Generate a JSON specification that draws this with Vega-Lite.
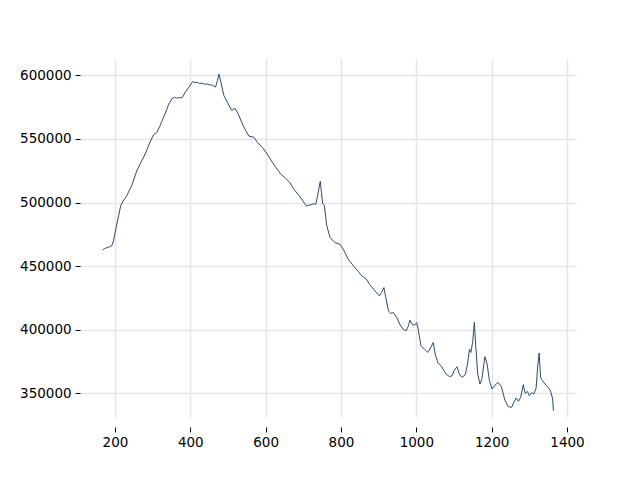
{
  "$schema": "https://vega.github.io/schema/vega-lite/v6.json",
  "autosize": "none",
  "width": 496,
  "height": 359,
  "padding": {"left": 80, "top": 58, "right": 64, "bottom": 63},
  "background": "white",
  "config": {
    "view": {"stroke": null},
    "axis": {
      "labelFont": "DejaVu Sans",
      "labelFontSize": 13.5,
      "labelColor": "black",
      "domain": false,
      "tickColor": "black",
      "tickWidth": 1,
      "tickSize": 4.9,
      "labelPadding": 4,
      "grid": true,
      "gridColor": "#e6e6e6",
      "gridWidth": 1.6
    }
  },
  "data": {
    "values": [
      {"x": 167, "y": 462650}, {"x": 172, "y": 463800}, {"x": 178, "y": 464500}, {"x": 185, "y": 465200},
      {"x": 191, "y": 465800}, {"x": 196, "y": 469800}, {"x": 204, "y": 481600}, {"x": 215, "y": 497400},
      {"x": 222, "y": 501300}, {"x": 231, "y": 505300}, {"x": 244, "y": 513100}, {"x": 258, "y": 525000},
      {"x": 271, "y": 532900}, {"x": 280, "y": 538100}, {"x": 292, "y": 546800}, {"x": 302, "y": 553100},
      {"x": 311, "y": 555200}, {"x": 320, "y": 560500}, {"x": 324, "y": 563700}, {"x": 333, "y": 569700},
      {"x": 342, "y": 576900}, {"x": 351, "y": 581600}, {"x": 358, "y": 582800}, {"x": 364, "y": 582100},
      {"x": 371, "y": 582600}, {"x": 378, "y": 582400}, {"x": 387, "y": 586900}, {"x": 396, "y": 590800},
      {"x": 407, "y": 595300}, {"x": 412, "y": 594200}, {"x": 418, "y": 594700}, {"x": 424, "y": 593500},
      {"x": 431, "y": 593900}, {"x": 438, "y": 593000}, {"x": 444, "y": 593300}, {"x": 451, "y": 592600},
      {"x": 458, "y": 592400}, {"x": 467, "y": 590800}, {"x": 472, "y": 596000}, {"x": 476, "y": 601000},
      {"x": 481, "y": 594800}, {"x": 489, "y": 584200}, {"x": 498, "y": 579000}, {"x": 510, "y": 572400},
      {"x": 518, "y": 574200}, {"x": 527, "y": 569800}, {"x": 538, "y": 561900}, {"x": 547, "y": 556600},
      {"x": 556, "y": 552200}, {"x": 569, "y": 551300}, {"x": 578, "y": 547400}, {"x": 591, "y": 543400},
      {"x": 604, "y": 538200}, {"x": 618, "y": 531600}, {"x": 627, "y": 527600}, {"x": 640, "y": 522400},
      {"x": 653, "y": 519000}, {"x": 664, "y": 515800}, {"x": 675, "y": 510500}, {"x": 689, "y": 505300},
      {"x": 699, "y": 501300}, {"x": 708, "y": 497400}, {"x": 719, "y": 498200}, {"x": 726, "y": 498900},
      {"x": 733, "y": 498700}, {"x": 737, "y": 504000}, {"x": 745, "y": 516800}, {"x": 748, "y": 508000},
      {"x": 751, "y": 499500}, {"x": 756, "y": 497500}, {"x": 762, "y": 482000}, {"x": 771, "y": 472500},
      {"x": 784, "y": 468500}, {"x": 797, "y": 467300}, {"x": 806, "y": 463300}, {"x": 819, "y": 455500},
      {"x": 833, "y": 450200}, {"x": 846, "y": 445800}, {"x": 855, "y": 442400}, {"x": 866, "y": 440300},
      {"x": 877, "y": 435300}, {"x": 890, "y": 430600}, {"x": 902, "y": 426600}, {"x": 908, "y": 429300},
      {"x": 914, "y": 433200}, {"x": 919, "y": 425300}, {"x": 926, "y": 414900}, {"x": 932, "y": 412800},
      {"x": 939, "y": 413500}, {"x": 948, "y": 409600}, {"x": 957, "y": 403800}, {"x": 965, "y": 400400},
      {"x": 973, "y": 399100}, {"x": 979, "y": 403100}, {"x": 983, "y": 407500}, {"x": 990, "y": 403800},
      {"x": 996, "y": 403800}, {"x": 1001, "y": 405700}, {"x": 1005, "y": 400400}, {"x": 1012, "y": 387500},
      {"x": 1021, "y": 384800}, {"x": 1030, "y": 382200}, {"x": 1036, "y": 384800}, {"x": 1045, "y": 390000},
      {"x": 1050, "y": 380900}, {"x": 1057, "y": 374300}, {"x": 1065, "y": 371700}, {"x": 1071, "y": 369100},
      {"x": 1079, "y": 365200}, {"x": 1088, "y": 363100}, {"x": 1095, "y": 363800}, {"x": 1101, "y": 368300},
      {"x": 1108, "y": 370900}, {"x": 1114, "y": 365200}, {"x": 1121, "y": 362500}, {"x": 1130, "y": 364600},
      {"x": 1136, "y": 373000}, {"x": 1141, "y": 384800}, {"x": 1145, "y": 382200}, {"x": 1150, "y": 391400},
      {"x": 1154, "y": 405800}, {"x": 1158, "y": 386100}, {"x": 1163, "y": 365200}, {"x": 1169, "y": 357300},
      {"x": 1174, "y": 361200}, {"x": 1182, "y": 378800}, {"x": 1188, "y": 373000}, {"x": 1194, "y": 359900},
      {"x": 1201, "y": 353400}, {"x": 1209, "y": 356400}, {"x": 1217, "y": 358600}, {"x": 1226, "y": 355200},
      {"x": 1235, "y": 344700}, {"x": 1244, "y": 339500}, {"x": 1253, "y": 339000}, {"x": 1259, "y": 342900},
      {"x": 1265, "y": 346300}, {"x": 1271, "y": 343700}, {"x": 1277, "y": 346800}, {"x": 1284, "y": 356800},
      {"x": 1289, "y": 350000}, {"x": 1295, "y": 351500}, {"x": 1300, "y": 348100}, {"x": 1306, "y": 350500},
      {"x": 1312, "y": 349400}, {"x": 1318, "y": 354100}, {"x": 1322, "y": 370400}, {"x": 1326, "y": 381700},
      {"x": 1330, "y": 362500}, {"x": 1335, "y": 359900}, {"x": 1342, "y": 357300}, {"x": 1350, "y": 354700},
      {"x": 1356, "y": 352100}, {"x": 1362, "y": 345500}, {"x": 1364, "y": 336300}
    ]
  },
  "mark": {"type": "line", "color": "#2d4b6e", "strokeWidth": 1, "clip": true},
  "encoding": {
    "x": {
      "field": "x",
      "type": "quantitative",
      "scale": {"domain": [107.1, 1423.9], "nice": false, "zero": false},
      "axis": {"title": null, "values": [200, 400, 600, 800, 1000, 1200, 1400], "format": "d", "offset": 10}
    },
    "y": {
      "field": "y",
      "type": "quantitative",
      "scale": {"domain": [331385, 613670], "nice": false, "zero": false},
      "axis": {"title": null, "values": [350000, 400000, 450000, 500000, 550000, 600000], "format": "d"}
    }
  }
}
